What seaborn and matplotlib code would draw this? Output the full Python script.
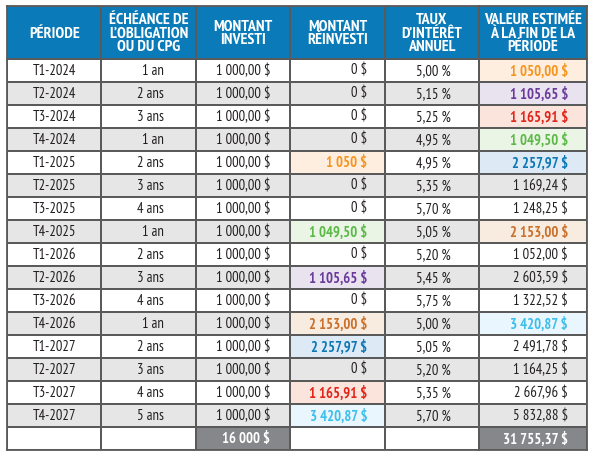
import matplotlib
matplotlib.use("Agg")
import matplotlib.pyplot as plt
from matplotlib import font_manager
from matplotlib.colors import ListedColormap
import numpy as np
import seaborn as sns

# ---------------- data ----------------
periods = ["T1-2024", "T2-2024", "T3-2024", "T4-2024", "T1-2025", "T2-2025", "T3-2025", "T4-2025",
           "T1-2026", "T2-2026", "T3-2026", "T4-2026", "T1-2027", "T2-2027", "T3-2027", "T4-2027"]
maturities = ["1 an", "2 ans", "3 ans", "1 an", "2 ans", "3 ans", "4 ans", "1 an",
              "2 ans", "3 ans", "4 ans", "1 an", "2 ans", "3 ans", "4 ans", "5 ans"]
invested = [1000.00] * 16
reinvested = ["0 $", "0 $", "0 $", "0 $", "1 050 $", "0 $", "0 $", "1 049,50 $",
              "0 $", "1 105,65 $", "0 $", "2 153,00 $", "2 257,97 $", "0 $", "1 165,91 $", "3 420,87 $"]
rates = [5.00, 5.15, 5.25, 4.95, 4.95, 5.35, 5.70, 5.05, 5.20, 5.45, 5.75, 5.00, 5.05, 5.20, 5.35, 5.70]
values = [1050.00, 1105.65, 1165.91, 1049.50, 2257.97, 1169.24, 1248.25, 2153.00,
          1052.00, 2603.59, 1322.52, 3420.87, 2491.78, 1164.25, 2667.96, 5832.88]
total_invested = "16 000 $"
total_value = 31755.37
headers = ["PÉRIODE", "ÉCHÉANCE DE\nL’OBLIGATION\nOU DU CPG", "MONTANT\nINVESTI",
           "MONTANT\nRÉINVESTI", "TAUX\nD’INTÉRÊT\nANNUEL", "VALEUR ESTIMÉE\nÀ LA FIN DE LA\nPÉRIODE"]
# highlight groups (chain of reinvestment)
value_hl = ["orange", "purple", "red", "green", "blue", None, None, "darkorange",
            None, None, None, "lightblue", None, None, None, None]
reinv_hl = [None, None, None, None, "orange", None, None, "green",
            None, "purple", None, "darkorange", "blue", None, "red", "lightblue"]

# ---------------- styles ----------------
fills = ["#ffffff", "#e6e6e7", "#86878a", "#0a7bb8",
         "#fdeee0", "#e9e3f0", "#fbe4dc", "#ebf5e6", "#dde9f5", "#f8ebdf", "#eaf6fd"]
hl_index = {"orange": 4, "purple": 5, "red": 6, "green": 7, "blue": 8, "darkorange": 9, "lightblue": 10}
hl_text = {"orange": "#f7941d", "purple": "#6a3a9a", "red": "#e2231a", "green": "#5cb948",
           "blue": "#0b78b6", "darkorange": "#c9712c", "lightblue": "#3dbfec"}
cmap = ListedColormap(fills)

FONT = dict(family=["PT Sans Narrow", "DejaVu Sans"])

def fmt_money(v):
    s = f"{v:,.2f}".replace(",", " ").replace(".", ",")
    return s + " $"

def fmt_pct(v):
    return f"{v:.2f}".replace(".", ",") + " %"

n = len(periods)
body_left = np.zeros((n + 1, 5))
body_right = np.zeros((n + 1, 1))
for i in range(n):
    base = 0 if i % 2 == 0 else 1
    body_left[i, :] = base
    body_right[i, 0] = base
    if reinv_hl[i]:
        body_left[i, 3] = hl_index[reinv_hl[i]]
    if value_hl[i]:
        body_right[i, 0] = hl_index[value_hl[i]]
body_left[n, :] = 0
body_left[n, 2] = 2
body_right[n, 0] = 2

fig = plt.figure(figsize=(6.0, 4.57), dpi=100)
W, H = 600, 457
x0, xm, x1 = 7, 479, 587
y_top, y_hb, y_bot = 6, 59, 450
lc = "#5a5a5a"
lw = 1.3

def add_ax(xa, xb, ya, yb):
    return fig.add_axes([xa / W, 1 - yb / H, (xb - xa) / W, (yb - ya) / H])

axH1 = add_ax(x0, xm, y_top, y_hb)
axH2 = add_ax(xm, x1, y_top, y_hb)
axB1 = add_ax(x0, xm, y_hb, y_bot)
axB2 = add_ax(xm, x1, y_hb, y_bot)

kw = dict(cmap=cmap, vmin=-0.5, vmax=len(fills) - 0.5, cbar=False, linewidths=lw,
          linecolor=lc, xticklabels=False, yticklabels=False)
sns.heatmap(np.full((1, 5), 3), ax=axH1, **kw)
sns.heatmap(np.full((1, 1), 3), ax=axH2, **kw)
sns.heatmap(body_left, ax=axB1, **kw)
sns.heatmap(body_right, ax=axB2, **kw)

for ax in (axH1, axH2, axB1, axB2):
    for sp in ax.spines.values():
        sp.set_visible(True)
        sp.set_color(lc)
        sp.set_linewidth(lw)
    ax.set_xlabel("")
    ax.set_ylabel("")

# header text
hfs = 11.5
for j in range(5):
    axH1.text(j + 0.5, 0.52, headers[j], ha="center", va="center", color="white",
              fontsize=hfs, fontweight="bold", linespacing=0.95, **FONT)
axH2.text(0.5, 0.52, headers[5], ha="center", va="center", color="white",
          fontsize=hfs, fontweight="bold", linespacing=0.95, **FONT)

fs = 10.5
txt = "#231f20"
for i in range(n):
    y = i + 0.52
    axB1.text(0.5, y, periods[i], ha="center", va="center", fontsize=fs, color=txt, **FONT)
    axB1.text(1.667, y, maturities[i], ha="right", va="center", fontsize=fs, color=txt, **FONT)
    axB1.text(2.795, y, fmt_money(invested[i]), ha="right", va="center", fontsize=fs, color=txt, **FONT)
    if reinv_hl[i]:
        axB1.text(3.815, y, reinvested[i], ha="right", va="center", fontsize=fs,
                  color=hl_text[reinv_hl[i]], fontweight="bold", **FONT)
    else:
        axB1.text(3.815, y, reinvested[i], ha="right", va="center", fontsize=fs, color=txt, **FONT)
    axB1.text(4.70, y, fmt_pct(rates[i]), ha="right", va="center", fontsize=fs, color=txt, **FONT)
    if value_hl[i]:
        axB2.text(0.824, y, fmt_money(values[i]), ha="right", va="center", fontsize=fs,
                  color=hl_text[value_hl[i]], fontweight="bold", **FONT)
    else:
        axB2.text(0.824, y, fmt_money(values[i]), ha="right", va="center", fontsize=fs, color=txt, **FONT)

axB1.text(2.785, n + 0.52, total_invested, ha="right", va="center", fontsize=fs,
          color="white", fontweight="bold", **FONT)
axB2.text(0.824, n + 0.52, fmt_money(total_value), ha="right", va="center", fontsize=fs,
          color="white", fontweight="bold", **FONT)

fig.savefig("out.png", dpi=100, facecolor="white")
